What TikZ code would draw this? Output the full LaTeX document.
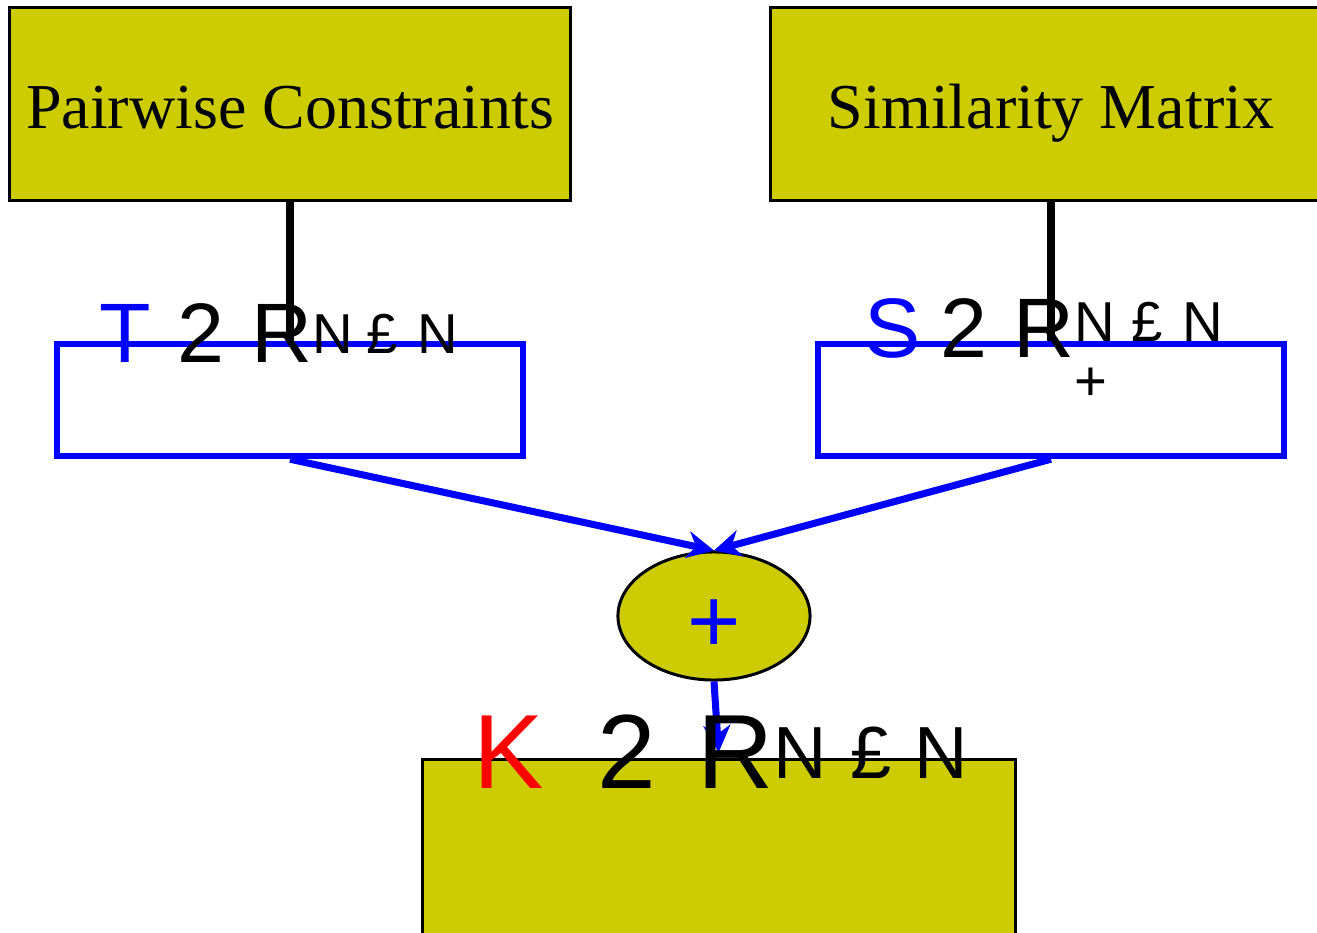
\documentclass[tikz,border=0pt]{standalone}
\usepackage{fontspec}
\setmainfont{Liberation Sans}
\newfontfamily\boxserif{Liberation Serif}
\definecolor{boxolive}{RGB}{204,204,0}
\usetikzlibrary{arrows.meta,positioning,shapes.geometric}
\tikzset{
  inbox/.style={draw=black, line width=0.85pt, fill=boxolive, inner sep=0pt, text height=0.6cm, text depth=0.12cm, font=\boxserif\fontsize{18.2}{19}\selectfont},
  vecbox/.style={draw=blue, line width=1.8pt, minimum width=4.66cm, minimum height=1.12cm},
  link/.style={black, line width=2.3pt},
  flow/.style={blue, line width=2pt, -{Stealth[length=0.27cm, width=0.27cm]}}
}
\begin{document}
\begin{tikzpicture}[x=0.01cm, y=-0.01cm]
\useasboundingbox (0,0) rectangle (1317,933);
\clip (0,0) rectangle (1317,933);
\node[inbox, minimum width=5.6cm, minimum height=1.92cm] (pc) at (290,104) {Pairwise Constraints};
\node[inbox, minimum width=5.6cm, minimum height=1.92cm] (sm) at (1051,104) {Similarity Matrix};
\node[vecbox] (tmat) at (290,400) {};
\node[vecbox] (smat) at (1051,400) {};
\node[ellipse, draw=black, line width=0.85pt, fill=boxolive, minimum width=1.92cm, minimum height=1.28cm, text=blue, font=\fontsize{26}{26}\selectfont] (sum) at (714,616) {\smash{\raisebox{-0.36cm}{+}}};
\node[draw=black, line width=0.85pt, fill=boxolive, minimum width=5.92cm, minimum height=3cm] (kmat) at (719,910) {};
\draw[link] (pc.south) -- (tmat.north);
\draw[link] (sm.south) -- (smat.north);
\draw[flow] (tmat.south) -- (sum.north);
\draw[flow] (smat.south) -- (sum.north);
\draw[flow, shorten >=0.06cm] (sum.south) -- (kmat.north);
\node[anchor=base west, inner sep=0pt, font=\fontsize{24}{24}\selectfont] (tlab) at (99,362)
  {\textcolor{blue}{T}\hspace{0.26cm}2\hspace{0.27cm}R\raisebox{0.08cm}{\fontsize{16}{16}\selectfont N\hspace{0.14cm}£\hspace{0.19cm}N}};
\node[anchor=base west, inner sep=0pt, font=\fontsize{24}{24}\selectfont] (slab) at (864,357)
  {\textcolor{blue}{S}\hspace{0.19cm}2\hspace{0.27cm}R\rlap{\raisebox{-0.43cm}{\fontsize{16}{16}\selectfont +}}\raisebox{0.15cm}{\fontsize{16}{16}\selectfont N\hspace{0.16cm}£\hspace{0.2cm}N}};
\node[anchor=base west, inner sep=0pt, font=\fontsize{30}{30}\selectfont] (klab) at (473,788)
  {\textcolor{red}{K}\hspace{0.53cm}2\hspace{0.42cm}R\raisebox{0.1cm}{\fontsize{21}{21}\selectfont N\hspace{0.23cm}£\hspace{0.23cm}N}};
\end{tikzpicture}
\end{document}
